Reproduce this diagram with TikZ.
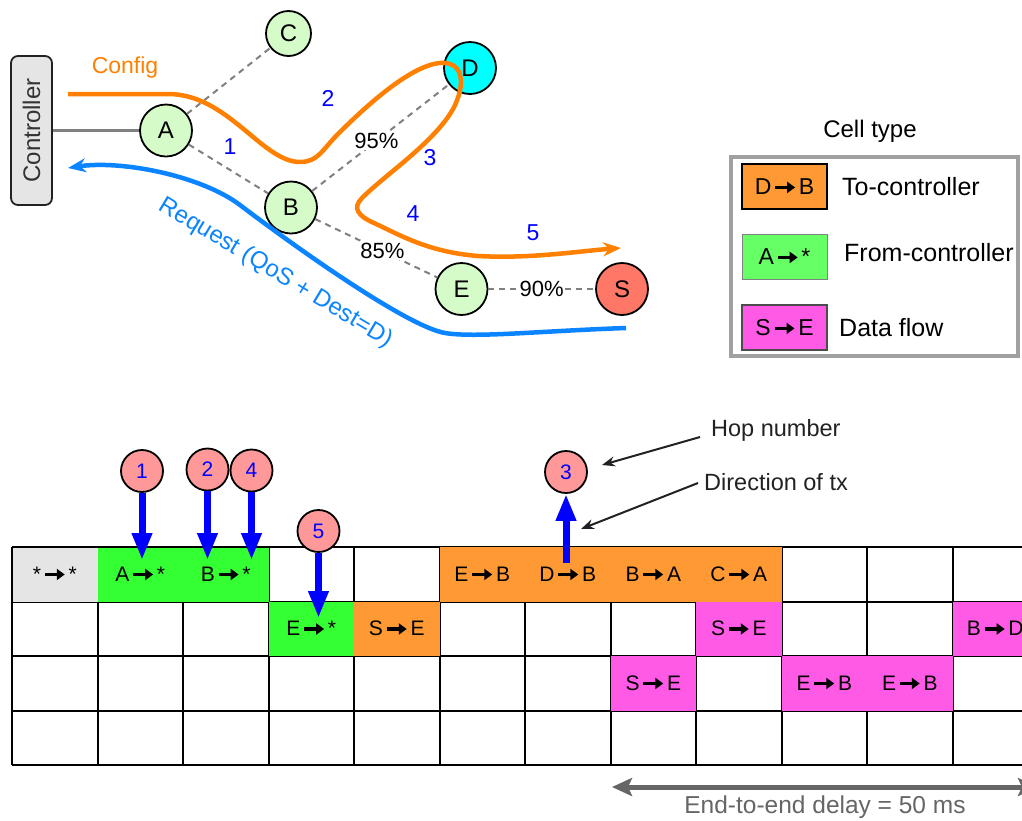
\documentclass[tikz,border=0pt]{standalone}
\usepackage{fontspec}
\setmainfont{Liberation Sans}
\usetikzlibrary{arrows.meta}
\definecolor{ngreen}{HTML}{D5FBC9}
\definecolor{ncyan}{HTML}{00FFFF}
\definecolor{nred}{HTML}{FF7766}
\definecolor{cfg}{HTML}{FF8000}
\definecolor{req}{HTML}{0A84FF}
\definecolor{num}{HTML}{0000FF}
\definecolor{dgray}{HTML}{808080}
\definecolor{cgray}{HTML}{E5E5E5}
\definecolor{cgreen}{HTML}{33FF33}
\definecolor{lgreen}{HTML}{66FF66}
\definecolor{corange}{HTML}{FF9933}
\definecolor{cmag}{HTML}{FF5AE6}
\definecolor{hop}{HTML}{FF9999}
\definecolor{lgray}{HTML}{A0A0A0}
\definecolor{ink}{HTML}{222222}
\newcommand{\fs}[1]{\fontsize{#1}{#1}\selectfont}
\newcommand{\rarr}{\kern2pt\tikz[baseline=-7pt]\draw[line width=3.5pt,-{Triangle[length=8pt,width=11pt]}] (0pt,0pt)--(20pt,0pt);\kern2pt}
\tikzset{
  netnode/.style={circle, draw=black, line width=1.8pt, fill=ngreen, minimum size=52pt, inner sep=0pt, font=\fs{24}},
  ctrlbox/.style={draw=ink, fill=cgray, rounded corners=7pt, line width=1.8pt, minimum width=149pt, minimum height=41pt, inner sep=0pt, text=black!80, font=\fs{24}},
  hopnode/.style={circle, draw=black, line width=1.8pt, fill=hop, minimum size=42pt, inner sep=0pt, text=num, font=\fs{21}},
  link/.style={dgray, line width=2pt, dash pattern=on 6pt off 5pt},
  pct/.style={fill=white, text=black, inner sep=1pt, font=\fs{22}},
  hopnum/.style={text=num, font=\fs{23}},
  celltxt/.style={font=\fs{21}, inner sep=0pt},
  txarrow/.style={num, line width=7pt, -{Triangle[length=27pt,width=19pt]}},
  note/.style={font=\fs{23.5}, text=ink, inner sep=0pt, anchor=west},
  notearrow/.style={ink, line width=2pt, -{Stealth[length=13pt,width=10pt]}},
  cfgline/.style={cfg, line width=4.5pt, -{Stealth[length=18pt,width=14pt,inset=6pt]}},
  reqline/.style={req, line width=4.5pt, -{Stealth[length=18pt,width=14pt,inset=6pt]}},
  gridline/.style={black, line width=2pt},
  swatch/.style={minimum width=85pt, minimum height=45pt, inner sep=0pt, font=\fs{23}},
  lgtext/.style={font=\fs{25}, inner sep=0pt, anchor=west},
  delayarrow/.style={black!60, line width=5pt, {Stealth[length=20pt,width=18pt,inset=4pt]}-{Stealth[length=20pt,width=18pt,inset=4pt]}},
}
\begin{document}
\begin{tikzpicture}[x=1pt,y=-1pt]
\clip (0,0) rectangle (1022,820);
\fill[white] (0,0) rectangle (1022,820);

% ---------- network ----------
\node[ctrlbox, rotate=90] (ctrl) at (31.5,130.5) {Controller};
\node[netnode] (A) at (166,130.5) {A};
\node[netnode, minimum size=45pt] (C) at (288.5,33.5) {C};
\node[netnode] (B) at (291,207.5) {B};
\node[netnode, fill=ncyan] (D) at (470,68) {D};
\node[netnode] (E) at (461.5,289) {E};
\node[netnode, fill=nred] (S) at (622,289) {S};

\draw[dgray, line width=2.5pt] (ctrl) -- (A);
\draw[link] (A) -- (C);
\draw[link] (A) -- (B);
\draw[link] (B) -- node[pct, pos=0.47] {95\%} (D);
\draw[link] (B) -- node[pct, pos=0.55] {85\%} (E);
\draw[link] (E) -- node[pct] {90\%} (S);

\coordinate (cfgS) at (68,94);
\coordinate (cfgE) at (621,248);
\draw[cfgline] (cfgS) -- (168,94) .. controls (228,94) and (262,162) .. (300,162)
  .. controls (318,162) and (322,150) .. (338,134)
  .. controls (372,100) and (418,60) .. (446,63)
  .. controls (468,66) and (463,96) .. (448,117)
  .. controls (426,148) and (384,176) .. (362,198)
  .. controls (352,208) and (358,216) .. (374,223)
  .. controls (400,235) and (428,252) .. (478,256)
  .. controls (530,259) and (580,251) .. (cfgE);

\coordinate (reqS) at (626,328);
\coordinate (reqE) at (68,168);
\draw[reqline] (reqS) .. controls (540,331) and (475,338) .. (445,333)
  .. controls (410,327) and (310,258) .. (240,205)
  .. controls (200,175) and (120,160) .. (reqE);

\node[text=cfg, font=\fs{23}] (cfglabel) at (125,68) {Config};
\node[text=req, font=\fs{24}, rotate=-31] (reqlabel) at (276,273) {Request (QoS + Dest=D)};
\node[hopnum] (n1) at (230,147) {1};
\node[hopnum] (n2) at (328,98) {2};
\node[hopnum] (n3) at (430,158) {3};
\node[hopnum] (n4) at (413,214) {4};
\node[hopnum] (n5) at (533,233) {5};

% ---------- legend ----------
\node[font=\fs{24}] (lgtitle) at (870,131) {Cell type};
\node[draw=lgray, line width=4pt, minimum width=287pt, minimum height=199pt] (lgbox) at (874.5,256.5) {};
\node[swatch, fill=corange, draw=black, line width=2pt] (lg1) at (784.5,186.5) {D\rarr B};
\node[swatch, fill=lgreen, draw=black!50, line width=1pt] (lg2) at (784.5,256.5) {A\rarr *};
\node[swatch, fill=cmag, draw=black!70, line width=1.5pt] (lg3) at (784.5,327.5) {S\rarr E};
\node[lgtext] (lt1) at (842,186.5) {To-controller};
\node[lgtext] (lt2) at (844,253) {From-controller};
\node[lgtext] (lt3) at (839,328) {Data flow};

% ---------- grid ----------
\foreach \x in {12,97.5,183,268.5,354,439.5,525,610.5,696,781.5,867,952.5}
  \draw[gridline] (\x,547) -- (\x,765);
\foreach \y in {547,601.5,656,710.5,765}
  \draw[gridline] (12,\y) -- (1038,\y);

\fill[cgray] (12,547) rectangle (97.5,601.5);
\fill[cgreen] (97.5,547) rectangle (268.5,601.5);
\fill[corange] (439.5,547) rectangle (781.5,601.5);
\fill[cgreen] (268.5,601.5) rectangle (354,656);
\fill[corange] (354,601.5) rectangle (439.5,656);
\fill[cmag] (696,601.5) rectangle (781.5,656);
\fill[cmag] (952.5,601.5) rectangle (1038,656);
\fill[cmag] (610.5,656) rectangle (696,710.5);
\fill[cmag] (781.5,656) rectangle (952.5,710.5);
\draw[gridline] (12,547) -- (268.5,547);
\draw[gridline] (12,547) -- (12,601.5);

\node[celltxt] (c00) at (54.75,574.25) {*\rarr *};
\node[celltxt] (c01) at (140.25,574.25) {A\rarr *};
\node[celltxt] (c02) at (225.75,574.25) {B\rarr *};
\node[celltxt] (c05) at (482.25,574.25) {E\rarr B};
\node[celltxt] (c06) at (567.75,574.25) {D\rarr B};
\node[celltxt] (c07) at (653.25,574.25) {B\rarr A};
\node[celltxt] (c08) at (738.75,574.25) {C\rarr A};
\node[celltxt] (c13) at (311.25,628.75) {E\rarr *};
\node[celltxt] (c14) at (396.75,628.75) {S\rarr E};
\node[celltxt] (c18) at (738.75,628.75) {S\rarr E};
\node[celltxt] (c111) at (995.25,628.75) {B\rarr D};
\node[celltxt] (c27) at (653.25,683.25) {S\rarr E};
\node[celltxt] (c29) at (824.25,683.25) {E\rarr B};
\node[celltxt] (c210) at (909.75,683.25) {E\rarr B};

% ---------- hops ----------
\node[hopnode] (h1) at (142,471) {1};
\node[hopnode] (h2) at (207.5,469.5) {2};
\node[hopnode] (h4) at (251.5,470.5) {4};
\node[hopnode] (h5) at (318.5,531) {5};
\node[hopnode] (h3) at (566,472) {3};
\coordinate (t1) at (142,560);
\coordinate (t2) at (207.5,560);
\coordinate (t4) at (251.5,560);
\coordinate (t5) at (318.5,618);
\coordinate (s3) at (566,563);
\draw[txarrow] (h1) -- (t1);
\draw[txarrow] (h2) -- (t2);
\draw[txarrow] (h4) -- (t4);
\draw[txarrow] (h5) -- (t5);
\draw[txarrow] (s3) -- (h3);

% ---------- notes ----------
\node[note] (hn) at (711,430) {Hop number};
\node[note] (dt) at (704,482) {Direction of tx};
\coordinate (hnS) at (700,437);
\coordinate (hnT) at (602,465);
\coordinate (dtS) at (698,483);
\coordinate (dtT) at (581,529);
\draw[notearrow] (hnS) -- (hnT);
\draw[notearrow] (dtS) -- (dtT);

% ---------- delay ----------
\coordinate (dl) at (612,787);
\coordinate (dr) at (1038,787);
\draw[delayarrow] (dl) -- (dr);
\node[text=black!60, font=\fs{24.5}] (delay) at (825,807) {End-to-end delay = 50 ms};
\end{tikzpicture}
\end{document}
